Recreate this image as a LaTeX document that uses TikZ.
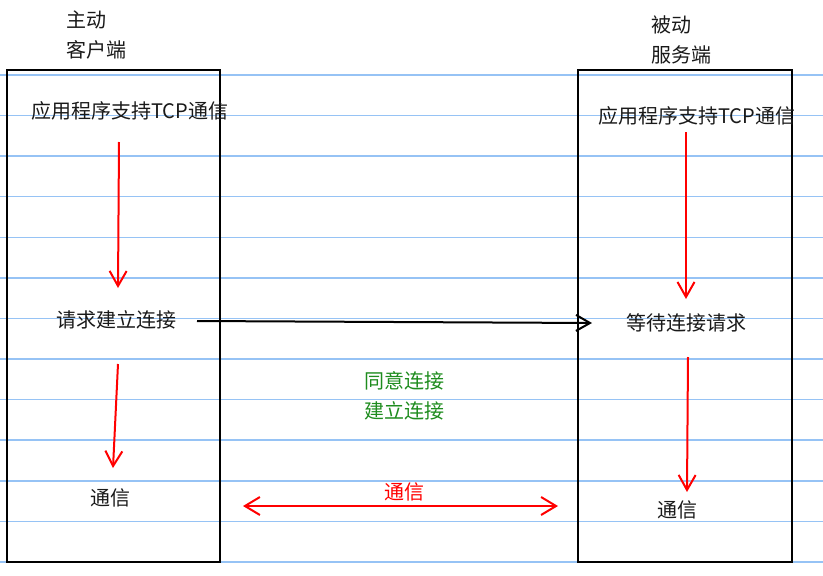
\documentclass[tikz,border=0pt]{standalone}
\usepackage{fontspec}
\setmainfont{Noto Sans CJK SC}
\usetikzlibrary{arrows.meta}
\definecolor{gridblue}{RGB}{150,195,245}
\definecolor{txtgray}{RGB}{25,25,25}
\definecolor{agreegreen}{RGB}{30,140,30}
\definecolor{arrred}{RGB}{255,0,0}
\tikzset{
  lbl/.style={anchor=west,inner sep=0pt,font=\fontsize{20}{24}\selectfont,text=txtgray},
  grn/.style={lbl,text=agreegreen},
  redlbl/.style={lbl,text=arrred},
  gridline/.style={draw=gridblue,line width=1.5pt},
  box/.style={draw=black,line width=2.2pt},
  redarr/.style={draw=arrred,line width=2pt,-{Straight Barb[length=15pt,width=17pt,line width=2pt]}},
  redboth/.style={draw=arrred,line width=2pt,{Straight Barb[length=15pt,width=18pt,line width=2pt]}-{Straight Barb[length=15pt,width=18pt,line width=2pt]}},
  blkarr/.style={draw=black,line width=2pt,-{Straight Barb[length=14pt,width=16pt,line width=2pt]}}
}
\begin{document}
\begin{tikzpicture}[x=1pt,y=-1pt]
\useasboundingbox (0,0) rectangle (823,576);
% ruled lines
\foreach \k in {0,...,12}{
  \draw[gridline] (0,{75+40.58*\k}) -- (823,{75+40.58*\k});
}
% boxes
\draw[box] (7,70) rectangle (220,562);
\draw[box] (578,70) rectangle (792,562);
% titles
\node[lbl] (c1) at (66,20) {主动};
\node[lbl] (c2) at (66,50) {客户端};
\node[lbl] (s1) at (651,25) {被动};
\node[lbl] (s2) at (651,55) {服务端};
% left column
\node[lbl] (lapp) at (31,111) {应用程序支持TCP通信};
\node[lbl] (lreq) at (56,320) {请求建立连接};
\node[lbl] (lcom) at (90,498) {通信};
% right column
\node[lbl] (rapp) at (598,116) {应用程序支持TCP通信};
\node[lbl] (rwait) at (626,323) {等待连接请求};
\node[lbl] (rcom) at (657,510) {通信};
% middle
\node[grn] (agree) at (364,381) {同意连接};
\node[grn] (estab) at (364,411) {建立连接};
\node[redlbl] (mcom) at (384,492) {通信};
% connector ends
\coordinate (la1) at (119,142);
\coordinate (la2) at (118,288);
\coordinate (lb1) at (118,364);
\coordinate (lb2) at (113,468);
\coordinate (ra1) at (686,132);
\coordinate (ra2) at (686,299);
\coordinate (rb1) at (688,357);
\coordinate (rb2) at (687,492);
\coordinate (bk1) at (197,321);
\coordinate (bk2) at (592,323);
\coordinate (dm1) at (243,506);
\coordinate (dm2) at (558,506);
% connectors
\draw[redarr] (la1) -- (la2);
\draw[redarr] (lb1) -- (lb2);
\draw[redarr] (ra1) -- (ra2);
\draw[redarr] (rb1) -- (rb2);
\draw[blkarr] (bk1) -- (bk2);
\draw[redboth] (dm1) -- (dm2);
\end{tikzpicture}
\end{document}
